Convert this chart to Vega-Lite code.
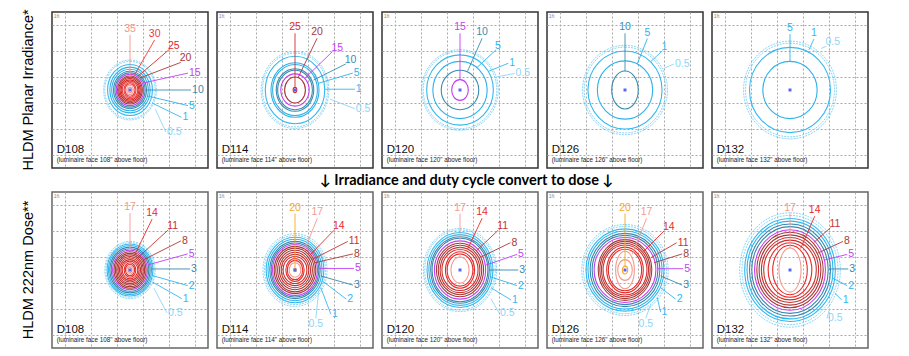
{
"$schema":"https://vega.github.io/schema/vega-lite/v6.json",
"padding":{"left":20,"top":9,"right":0,"bottom":0},
"spacing":1,
"config":{"font":"Liberation Sans","view":{"stroke":"#333"},"axis":{"grid":true,"gridDash":[2,2],"gridColor":"#a8a8a8","gridWidth":1,"labels":false,"ticks":false,"domain":false,"title":null}},
"datasets":{"d":[
{"k":"p","row":"irr","p":"D108","s":"(luminaire face 108\" above floor)"},
{"k":"p","row":"irr","p":"D114","s":"(luminaire face 114\" above floor)"},
{"k":"p","row":"irr","p":"D120","s":"(luminaire face 120\" above floor)"},
{"k":"p","row":"irr","p":"D126","s":"(luminaire face 126\" above floor)"},
{"k":"p","row":"irr","p":"D132","s":"(luminaire face 132\" above floor)"},
{"k":"p","row":"dose","p":"D108","s":"(luminaire face 108\" above floor)"},
{"k":"p","row":"dose","p":"D114","s":"(luminaire face 114\" above floor)"},
{"k":"p","row":"dose","p":"D120","s":"(luminaire face 120\" above floor)"},
{"k":"p","row":"dose","p":"D126","s":"(luminaire face 126\" above floor)"},
{"k":"p","row":"dose","p":"D132","s":"(luminaire face 132\" above floor)"},

{"k":"r","row":"irr","p":"D108","c":"i05","r":1.15,"sh":"n"},
{"k":"r","row":"irr","p":"D108","c":"i05","r":1.1,"sh":"n"},
{"k":"r","row":"irr","p":"D108","c":"i1","r":0.98,"sh":"n"},
{"k":"r","row":"irr","p":"D108","c":"i5","r":0.88,"sh":"n"},
{"k":"r","row":"irr","p":"D108","c":"i5","r":0.8,"sh":"n"},
{"k":"r","row":"irr","p":"D108","c":"i10","r":0.72,"sh":"n"},
{"k":"r","row":"irr","p":"D108","c":"i10","r":0.66,"sh":"n"},
{"k":"r","row":"irr","p":"D108","c":"i15","r":0.6,"sh":"n"},
{"k":"r","row":"irr","p":"D108","c":"i20","r":0.54,"sh":"n"},
{"k":"r","row":"irr","p":"D108","c":"i20","r":0.49,"sh":"n"},
{"k":"r","row":"irr","p":"D108","c":"i25","r":0.44,"sh":"n"},
{"k":"r","row":"irr","p":"D108","c":"i25","r":0.39,"sh":"n"},
{"k":"r","row":"irr","p":"D108","c":"i30","r":0.34,"sh":"n"},
{"k":"r","row":"irr","p":"D108","c":"i30","r":0.29,"sh":"m"},
{"k":"r","row":"irr","p":"D108","c":"i30","r":0.24,"sh":"m"},
{"k":"r","row":"irr","p":"D108","c":"i35","r":0.18,"sh":"t"},
{"k":"r","row":"irr","p":"D108","c":"i35","r":0.11,"sh":"t"},

{"k":"r","row":"irr","p":"D114","c":"i05","r":1.48,"sh":"n"},
{"k":"r","row":"irr","p":"D114","c":"i05","r":1.42,"sh":"n"},
{"k":"r","row":"irr","p":"D114","c":"i1","r":1.3,"sh":"n"},
{"k":"r","row":"irr","p":"D114","c":"i5","r":1.05,"sh":"n"},
{"k":"r","row":"irr","p":"D114","c":"i5","r":0.98,"sh":"n"},
{"k":"r","row":"irr","p":"D114","c":"i10","r":0.82,"sh":"n"},
{"k":"r","row":"irr","p":"D114","c":"i10","r":0.76,"sh":"n"},
{"k":"r","row":"irr","p":"D114","c":"i15","r":0.62,"sh":"n"},
{"k":"r","row":"irr","p":"D114","c":"i20","r":0.5,"sh":"m"},
{"k":"r","row":"irr","p":"D114","c":"i25","r":0.1,"sh":"t"},

{"k":"r","row":"irr","p":"D120","c":"i05","r":1.55,"sh":"c"},
{"k":"r","row":"irr","p":"D120","c":"i05","r":1.49,"sh":"c"},
{"k":"r","row":"irr","p":"D120","c":"i1","r":1.35,"sh":"c"},
{"k":"r","row":"irr","p":"D120","c":"i5","r":1.1,"sh":"c"},
{"k":"r","row":"irr","p":"D120","c":"i10","r":0.76,"sh":"c"},
{"k":"r","row":"irr","p":"D120","c":"i15","r":0.4,"sh":"m"},

{"k":"r","row":"irr","p":"D126","c":"i05","r":1.72,"sh":"c"},
{"k":"r","row":"irr","p":"D126","c":"i05","r":1.65,"sh":"c"},
{"k":"r","row":"irr","p":"D126","c":"i1","r":1.5,"sh":"c"},
{"k":"r","row":"irr","p":"D126","c":"i5","r":1.12,"sh":"c"},
{"k":"r","row":"irr","p":"D126","c":"i10","r":0.73,"sh":"t"},

{"k":"r","row":"irr","p":"D132","c":"i05","r":1.88,"sh":"c"},
{"k":"r","row":"irr","p":"D132","c":"i05","r":1.8,"sh":"c"},
{"k":"r","row":"irr","p":"D132","c":"i1","r":1.64,"sh":"c"},
{"k":"r","row":"irr","p":"D132","c":"i5","r":1.1,"sh":"c"},

{"k":"r","row":"dose","p":"D108","c":"d05","r":1.1,"sh":"n"},
{"k":"r","row":"dose","p":"D108","c":"d05","r":1.05,"sh":"n"},
{"k":"r","row":"dose","p":"D108","c":"d1","r":1.0,"sh":"n"},
{"k":"r","row":"dose","p":"D108","c":"d2","r":0.94,"sh":"n"},
{"k":"r","row":"dose","p":"D108","c":"d3","r":0.88,"sh":"n"},
{"k":"r","row":"dose","p":"D108","c":"d3","r":0.82,"sh":"n"},
{"k":"r","row":"dose","p":"D108","c":"d5","r":0.76,"sh":"n"},
{"k":"r","row":"dose","p":"D108","c":"d8","r":0.7,"sh":"n"},
{"k":"r","row":"dose","p":"D108","c":"d8","r":0.64,"sh":"n"},
{"k":"r","row":"dose","p":"D108","c":"d8","r":0.58,"sh":"n"},
{"k":"r","row":"dose","p":"D108","c":"d11","r":0.52,"sh":"n"},
{"k":"r","row":"dose","p":"D108","c":"d11","r":0.46,"sh":"n"},
{"k":"r","row":"dose","p":"D108","c":"d11","r":0.4,"sh":"n"},
{"k":"r","row":"dose","p":"D108","c":"d14","r":0.34,"sh":"n"},
{"k":"r","row":"dose","p":"D108","c":"d14","r":0.28,"sh":"m"},
{"k":"r","row":"dose","p":"D108","c":"d14","r":0.22,"sh":"m"},
{"k":"r","row":"dose","p":"D108","c":"d17","r":0.16,"sh":"m"},
{"k":"r","row":"dose","p":"D108","c":"d17","r":0.1,"sh":"t"},

{"k":"r","row":"dose","p":"D114","c":"d05","r":1.4,"sh":"n"},
{"k":"r","row":"dose","p":"D114","c":"d05","r":1.33,"sh":"n"},
{"k":"r","row":"dose","p":"D114","c":"d1","r":1.26,"sh":"n"},
{"k":"r","row":"dose","p":"D114","c":"d2","r":1.18,"sh":"n"},
{"k":"r","row":"dose","p":"D114","c":"d3","r":1.1,"sh":"n"},
{"k":"r","row":"dose","p":"D114","c":"d3","r":1.04,"sh":"n"},
{"k":"r","row":"dose","p":"D114","c":"d5","r":0.98,"sh":"n"},
{"k":"r","row":"dose","p":"D114","c":"d8","r":0.91,"sh":"n"},
{"k":"r","row":"dose","p":"D114","c":"d8","r":0.84,"sh":"n"},
{"k":"r","row":"dose","p":"D114","c":"d8","r":0.76,"sh":"n"},
{"k":"r","row":"dose","p":"D114","c":"d11","r":0.68,"sh":"n"},
{"k":"r","row":"dose","p":"D114","c":"d11","r":0.6,"sh":"n"},
{"k":"r","row":"dose","p":"D114","c":"d11","r":0.52,"sh":"n"},
{"k":"r","row":"dose","p":"D114","c":"d14","r":0.44,"sh":"m"},
{"k":"r","row":"dose","p":"D114","c":"d14","r":0.37,"sh":"m"},
{"k":"r","row":"dose","p":"D114","c":"d17","r":0.28,"sh":"m"},
{"k":"r","row":"dose","p":"D114","c":"d20","r":0.07,"sh":"t"},

{"k":"r","row":"dose","p":"D120","c":"d05","r":1.6,"sh":"n"},
{"k":"r","row":"dose","p":"D120","c":"d05","r":1.54,"sh":"n"},
{"k":"r","row":"dose","p":"D120","c":"d1","r":1.44,"sh":"n"},
{"k":"r","row":"dose","p":"D120","c":"d2","r":1.36,"sh":"n"},
{"k":"r","row":"dose","p":"D120","c":"d3","r":1.28,"sh":"n"},
{"k":"r","row":"dose","p":"D120","c":"d3","r":1.22,"sh":"n"},
{"k":"r","row":"dose","p":"D120","c":"d5","r":1.12,"sh":"n"},
{"k":"r","row":"dose","p":"D120","c":"d8","r":1.03,"sh":"n"},
{"k":"r","row":"dose","p":"D120","c":"d8","r":0.95,"sh":"n"},
{"k":"r","row":"dose","p":"D120","c":"d11","r":0.87,"sh":"n"},
{"k":"r","row":"dose","p":"D120","c":"d11","r":0.79,"sh":"n"},
{"k":"r","row":"dose","p":"D120","c":"d14","r":0.7,"sh":"m"},
{"k":"r","row":"dose","p":"D120","c":"d14","r":0.62,"sh":"m"},
{"k":"r","row":"dose","p":"D120","c":"d17","r":0.5,"sh":"t"},

{"k":"r","row":"dose","p":"D126","c":"d05","r":1.75,"sh":"c"},
{"k":"r","row":"dose","p":"D126","c":"d05","r":1.68,"sh":"c"},
{"k":"r","row":"dose","p":"D126","c":"d1","r":1.58,"sh":"c"},
{"k":"r","row":"dose","p":"D126","c":"d2","r":1.5,"sh":"c"},
{"k":"r","row":"dose","p":"D126","c":"d3","r":1.41,"sh":"c"},
{"k":"r","row":"dose","p":"D126","c":"d3","r":1.33,"sh":"c"},
{"k":"r","row":"dose","p":"D126","c":"d5","r":1.25,"sh":"c"},
{"k":"r","row":"dose","p":"D126","c":"d8","r":1.17,"sh":"n"},
{"k":"r","row":"dose","p":"D126","c":"d8","r":1.1,"sh":"n"},
{"k":"r","row":"dose","p":"D126","c":"d11","r":1.03,"sh":"n"},
{"k":"r","row":"dose","p":"D126","c":"d11","r":0.96,"sh":"n"},
{"k":"r","row":"dose","p":"D126","c":"d14","r":0.88,"sh":"m"},
{"k":"r","row":"dose","p":"D126","c":"d14","r":0.8,"sh":"m"},
{"k":"r","row":"dose","p":"D126","c":"d17","r":0.72,"sh":"tt"},
{"k":"r","row":"dose","p":"D126","c":"d17","r":0.4,"sh":"t"},
{"k":"r","row":"dose","p":"D126","c":"d20","r":0.15,"sh":"t"},

{"k":"r","row":"dose","p":"D132","c":"d05","r":2.2,"sh":"n"},
{"k":"r","row":"dose","p":"D132","c":"d05","r":2.1,"sh":"n"},
{"k":"r","row":"dose","p":"D132","c":"d1","r":1.98,"sh":"n"},
{"k":"r","row":"dose","p":"D132","c":"d2","r":1.88,"sh":"n"},
{"k":"r","row":"dose","p":"D132","c":"d3","r":1.77,"sh":"n"},
{"k":"r","row":"dose","p":"D132","c":"d3","r":1.67,"sh":"n"},
{"k":"r","row":"dose","p":"D132","c":"d5","r":1.55,"sh":"n"},
{"k":"r","row":"dose","p":"D132","c":"d8","r":1.45,"sh":"n"},
{"k":"r","row":"dose","p":"D132","c":"d8","r":1.35,"sh":"n"},
{"k":"r","row":"dose","p":"D132","c":"d11","r":1.25,"sh":"n"},
{"k":"r","row":"dose","p":"D132","c":"d11","r":1.15,"sh":"n"},
{"k":"r","row":"dose","p":"D132","c":"d14","r":1.05,"sh":"m"},
{"k":"r","row":"dose","p":"D132","c":"d14","r":0.95,"sh":"t"},
{"k":"r","row":"dose","p":"D132","c":"d17","r":0.85,"sh":"tt"},

{"k":"l","row":"irr","p":"D108","t":"35","c":"i35","s":"t","lx":0,"ly":2.12,"ax":0,"ay":0.5},
{"k":"l","row":"irr","p":"D108","t":"30","c":"i30","s":"t","lx":0.95,"ly":1.93,"ax":0.18,"ay":0.59},
{"k":"l","row":"irr","p":"D108","t":"25","c":"i25","s":"tr","lx":1.5,"ly":1.55,"ax":0.31,"ay":0.53},
{"k":"l","row":"irr","p":"D108","t":"20","c":"i20","s":"tr","lx":1.95,"ly":1.06,"ax":0.38,"ay":0.46},
{"k":"l","row":"irr","p":"D108","t":"15","c":"i15","s":"r","lx":2.23,"ly":0.65,"ax":0.51,"ay":0.27},
{"k":"l","row":"irr","p":"D108","t":"10","c":"i10","s":"r","lx":2.35,"ly":0,"ax":0.6,"ay":0},
{"k":"l","row":"irr","p":"D108","t":"5","c":"i5","s":"r","lx":2.23,"ly":-0.6,"ax":0.67,"ay":-0.23},
{"k":"l","row":"irr","p":"D108","t":"1","c":"i1","s":"r","lx":1.98,"ly":-1.05,"ax":0.85,"ay":-0.5},
{"k":"l","row":"irr","p":"D108","t":"0.5","c":"i05","s":"r","lx":1.38,"ly":-1.62,"ax":0.98,"ay":-0.75},

{"k":"l","row":"irr","p":"D114","t":"25","c":"i25","s":"t","lx":0,"ly":2.18,"ax":0,"ay":0.12},
{"k":"l","row":"irr","p":"D114","t":"20","c":"i20","s":"t","lx":0.85,"ly":1.99,"ax":0.13,"ay":0.5},
{"k":"l","row":"irr","p":"D114","t":"15","c":"i15","s":"tr","lx":1.44,"ly":1.48,"ax":0.38,"ay":0.45},
{"k":"l","row":"irr","p":"D114","t":"10","c":"i10","s":"tr","lx":1.95,"ly":1.0,"ax":0.71,"ay":0.38},
{"k":"l","row":"irr","p":"D114","t":"5","c":"i5","s":"r","lx":2.22,"ly":0.65,"ax":0.9,"ay":0.26},
{"k":"l","row":"irr","p":"D114","t":"1","c":"i1","s":"r","lx":2.3,"ly":0.03,"ax":1.15,"ay":0.03},
{"k":"l","row":"irr","p":"D114","t":"0.5","c":"i05","s":"r","lx":2.3,"ly":-0.72,"ax":1.35,"ay":-0.35},

{"k":"l","row":"irr","p":"D120","t":"15","c":"i15","s":"t","lx":0,"ly":2.18,"ax":0,"ay":0.4},
{"k":"l","row":"irr","p":"D120","t":"10","c":"i10","s":"t","lx":0.85,"ly":1.99,"ax":0.29,"ay":0.72},
{"k":"l","row":"irr","p":"D120","t":"5","c":"i5","s":"tr","lx":1.38,"ly":1.54,"ax":0.65,"ay":0.86},
{"k":"l","row":"irr","p":"D120","t":"1","c":"i1","s":"r","lx":1.86,"ly":1.03,"ax":1.1,"ay":0.72},
{"k":"l","row":"irr","p":"D120","t":"0.5","c":"i05","s":"r","lx":2.1,"ly":0.64,"ax":1.4,"ay":0.5},

{"k":"l","row":"irr","p":"D126","t":"10","c":"i10","s":"t","lx":0,"ly":2.18,"ax":0,"ay":0.73},
{"k":"l","row":"irr","p":"D126","t":"5","c":"i5","s":"t","lx":0.86,"ly":1.98,"ax":0.47,"ay":1.0},
{"k":"l","row":"irr","p":"D126","t":"1","c":"i1","s":"tr","lx":1.44,"ly":1.51,"ax":1.0,"ay":1.1},
{"k":"l","row":"irr","p":"D126","t":"0.5","c":"i05","s":"r","lx":1.88,"ly":1.0,"ax":1.48,"ay":0.82},

{"k":"l","row":"irr","p":"D132","t":"5","c":"i5","s":"t","lx":0,"ly":2.15,"ax":0,"ay":1.1},
{"k":"l","row":"irr","p":"D132","t":"1","c":"i1","s":"t","lx":0.92,"ly":1.96,"ax":0.73,"ay":1.55},
{"k":"l","row":"irr","p":"D132","t":"0.5","c":"i05","s":"tr","lx":1.4,"ly":1.68,"ax":1.2,"ay":1.6},

{"k":"l","row":"dose","p":"D108","t":"17","c":"d17","s":"t","lx":0,"ly":2.18,"ax":0,"ay":0.8},
{"k":"l","row":"dose","p":"D108","t":"14","c":"d14","s":"t","lx":0.85,"ly":1.96,"ax":0.19,"ay":0.6},
{"k":"l","row":"dose","p":"D108","t":"11","c":"d11","s":"tr","lx":1.47,"ly":1.54,"ax":0.32,"ay":0.49},
{"k":"l","row":"dose","p":"D108","t":"8","c":"d8","s":"r","lx":1.96,"ly":1.12,"ax":0.5,"ay":0.38},
{"k":"l","row":"dose","p":"D108","t":"5","c":"d5","s":"r","lx":2.22,"ly":0.62,"ax":0.7,"ay":0.2},
{"k":"l","row":"dose","p":"D108","t":"3","c":"d3","s":"r","lx":2.31,"ly":0.04,"ax":0.83,"ay":0.04},
{"k":"l","row":"dose","p":"D108","t":"2","c":"d2","s":"r","lx":2.22,"ly":-0.6,"ax":0.88,"ay":-0.22},
{"k":"l","row":"dose","p":"D108","t":"1","c":"d1","s":"r","lx":1.99,"ly":-1.1,"ax":0.88,"ay":-0.47},
{"k":"l","row":"dose","p":"D108","t":"0.5","c":"d05","s":"r","lx":1.42,"ly":-1.65,"ax":0.92,"ay":-0.7},

{"k":"l","row":"dose","p":"D114","t":"20","c":"d20","s":"t","lx":0,"ly":2.17,"ax":0,"ay":0.07},
{"k":"l","row":"dose","p":"D114","t":"17","c":"d17","s":"t","lx":0.86,"ly":1.99,"ax":0.35,"ay":0.73},
{"k":"l","row":"dose","p":"D114","t":"14","c":"d14","s":"tr","lx":1.5,"ly":1.53,"ax":0.54,"ay":0.54},
{"k":"l","row":"dose","p":"D114","t":"11","c":"d11","s":"r","lx":2.03,"ly":1.1,"ax":0.67,"ay":0.41},
{"k":"l","row":"dose","p":"D114","t":"8","c":"d8","s":"r","lx":2.23,"ly":0.62,"ax":0.77,"ay":0.28},
{"k":"l","row":"dose","p":"D114","t":"5","c":"d5","s":"r","lx":2.27,"ly":0.06,"ax":0.92,"ay":0.06},
{"k":"l","row":"dose","p":"D114","t":"3","c":"d3","s":"r","lx":2.23,"ly":-0.58,"ax":0.99,"ay":-0.23},
{"k":"l","row":"dose","p":"D114","t":"2","c":"d2","s":"r","lx":1.97,"ly":-1.12,"ax":1.05,"ay":-0.42},
{"k":"l","row":"dose","p":"D114","t":"1","c":"d1","s":"r","lx":1.38,"ly":-1.7,"ax":0.99,"ay":-0.68},
{"k":"l","row":"dose","p":"D114","t":"0.5","c":"d05","s":"b","lx":0.8,"ly":-1.85,"ax":0.92,"ay":-0.75},

{"k":"l","row":"dose","p":"D120","t":"17","c":"d17","s":"t","lx":0,"ly":2.17,"ax":0,"ay":0.5},
{"k":"l","row":"dose","p":"D120","t":"14","c":"d14","s":"t","lx":0.85,"ly":1.99,"ax":0.29,"ay":0.8},
{"k":"l","row":"dose","p":"D120","t":"11","c":"d11","s":"tr","lx":1.47,"ly":1.53,"ax":0.62,"ay":0.73},
{"k":"l","row":"dose","p":"D120","t":"8","c":"d8","s":"r","lx":1.94,"ly":1.05,"ax":0.81,"ay":0.5},
{"k":"l","row":"dose","p":"D120","t":"5","c":"d5","s":"r","lx":2.19,"ly":0.6,"ax":1.0,"ay":0.19},
{"k":"l","row":"dose","p":"D120","t":"3","c":"d3","s":"r","lx":2.24,"ly":0,"ax":1.13,"ay":0},
{"k":"l","row":"dose","p":"D120","t":"2","c":"d2","s":"r","lx":2.19,"ly":-0.6,"ax":1.19,"ay":-0.27},
{"k":"l","row":"dose","p":"D120","t":"1","c":"d1","s":"r","lx":1.96,"ly":-1.15,"ax":1.19,"ay":-0.68},
{"k":"l","row":"dose","p":"D120","t":"0.5","c":"d05","s":"r","lx":1.5,"ly":-1.65,"ax":1.19,"ay":-1.1},

{"k":"l","row":"dose","p":"D126","t":"20","c":"d20","s":"t","lx":0,"ly":2.17,"ax":0,"ay":0.15},
{"k":"l","row":"dose","p":"D126","t":"17","c":"d17","s":"t","lx":0.83,"ly":1.99,"ax":0.28,"ay":0.6},
{"k":"l","row":"dose","p":"D126","t":"14","c":"d14","s":"tr","lx":1.5,"ly":1.5,"ax":0.73,"ay":0.73},
{"k":"l","row":"dose","p":"D126","t":"11","c":"d11","s":"r","lx":1.99,"ly":1.05,"ax":0.99,"ay":0.47},
{"k":"l","row":"dose","p":"D126","t":"8","c":"d8","s":"r","lx":2.2,"ly":0.62,"ax":1.12,"ay":0.28},
{"k":"l","row":"dose","p":"D126","t":"5","c":"d5","s":"r","lx":2.24,"ly":0.05,"ax":1.24,"ay":0.05},
{"k":"l","row":"dose","p":"D126","t":"3","c":"d3","s":"r","lx":2.2,"ly":-0.58,"ax":1.37,"ay":-0.23},
{"k":"l","row":"dose","p":"D126","t":"2","c":"d2","s":"r","lx":1.95,"ly":-1.12,"ax":1.37,"ay":-0.68},
{"k":"l","row":"dose","p":"D126","t":"1","c":"d1","s":"r","lx":1.37,"ly":-1.62,"ax":1.24,"ay":-1.06},
{"k":"l","row":"dose","p":"D126","t":"0.5","c":"d05","s":"b","lx":0.8,"ly":-1.85,"ax":1.0,"ay":-1.3},

{"k":"l","row":"dose","p":"D132","t":"17","c":"d17","s":"t","lx":0,"ly":2.17,"ax":0,"ay":0.85},
{"k":"l","row":"dose","p":"D132","t":"14","c":"d14","s":"t","lx":0.95,"ly":2.07,"ax":0.41,"ay":0.83},
{"k":"l","row":"dose","p":"D132","t":"11","c":"d11","s":"tr","lx":1.56,"ly":1.63,"ax":0.92,"ay":1.06},
{"k":"l","row":"dose","p":"D132","t":"8","c":"d8","s":"r","lx":2.04,"ly":1.1,"ax":1.05,"ay":0.64},
{"k":"l","row":"dose","p":"D132","t":"5","c":"d5","s":"r","lx":2.2,"ly":0.6,"ax":1.31,"ay":0.38},
{"k":"l","row":"dose","p":"D132","t":"3","c":"d3","s":"r","lx":2.24,"ly":0.04,"ax":1.5,"ay":0.04},
{"k":"l","row":"dose","p":"D132","t":"2","c":"d2","s":"r","lx":2.2,"ly":-0.6,"ax":1.65,"ay":-0.32},
{"k":"l","row":"dose","p":"D132","t":"1","c":"d1","s":"r","lx":1.99,"ly":-1.15,"ax":1.73,"ay":-0.9},
{"k":"l","row":"dose","p":"D132","t":"0.5","c":"d05","s":"r","lx":1.42,"ly":-1.86,"ax":1.52,"ay":-1.5}
]},
"vconcat":[
{
"data":{"name":"d"},
"transform":[{"filter":"datum.row=='irr'"}],
"facet":{
 "row":{"field":"row","type":"nominal","title":null,"header":{"title":null,"labelExpr":"datum.value=='irr' ? 'HLDM Planar Irradiance*' : 'HLDM 222nm Dose**'","labelAngle":-90,"labelOrient":"left","labelFontSize":14.5,"labelFont":"Liberation Sans","labelColor":"#000","labelPadding":8}},
 "column":{"field":"p","type":"nominal","title":null,"header":null}
},
"spacing":{"row":0,"column":7},
"spec":{
 "width":156,"height":156,
 "view":{"stroke":"#333","strokeWidth":1.5},
 "layer":[
  {"transform":[{"filter":"datum.k=='r' && datum.c!='i05' && datum.c!='d05'"}],
   "mark":{"type":"point","filled":false,"strokeWidth":1.1,"opacity":1},
   "encoding":{
    "x":{"datum":0,"type":"quantitative","title":null,"scale":{"domain":[-3,3],"nice":false,"zero":false},"axis":{"values":[-2.5,-1.5,-0.5,0.5,1.5,2.5],"grid":true,"labels":false,"ticks":false,"domain":false,"title":null}},
    "y":{"datum":0,"type":"quantitative","title":null,"scale":{"domain":[-3,3],"nice":false,"zero":false},"axis":{"values":[-2.5,-1.5,-0.5,0.5,1.5,2.5],"grid":true,"labels":false,"ticks":false,"domain":false,"title":null}},
    "size":{"field":"r","type":"quantitative","scale":{"type":"pow","exponent":2,"domain":[0,3],"range":[0,24336]},"legend":null},
    "shape":{"field":"sh","type":"nominal","scale":{"domain":["c","n","m","t","tt"],"range":[
      "M0,-1C0.525,-1,0.95,-0.552,0.95,0C0.95,0.552,0.525,1,0,1C-0.525,1,-0.95,0.552,-0.95,0C-0.95,-0.552,-0.525,-1,0,-1Z",
      "M0,-1C0.486,-1,0.88,-0.552,0.88,0C0.88,0.552,0.486,1,0,1C-0.486,1,-0.88,0.552,-0.88,0C-0.88,-0.552,-0.486,-1,0,-1Z",
      "M0,-1C0.442,-1,0.8,-0.552,0.8,0C0.8,0.552,0.442,1,0,1C-0.442,1,-0.8,0.552,-0.8,0C-0.8,-0.552,-0.442,-1,0,-1Z",
      "M0,-1C0.387,-1,0.7,-0.552,0.7,0C0.7,0.552,0.387,1,0,1C-0.387,1,-0.7,0.552,-0.7,0C-0.7,-0.552,-0.387,-1,0,-1Z",
      "M0,-1C0.276,-1,0.5,-0.552,0.5,0C0.5,0.552,0.276,1,0,1C-0.276,1,-0.5,0.552,-0.5,0C-0.5,-0.552,-0.276,-1,0,-1Z"]},"legend":null},
    "color":{"field":"c","type":"nominal","scale":{"domain":["i35","i30","i25","i20","i15","i10","i5","i1","i05","d20","d17","d14","d11","d8","d5","d3","d2","d1","d05"],"range":["#f4958a","#ec3a3a","#d62a2a","#a83838","#c13ff2","#3a8cb0","#2fb1ea","#36b8ef","#8fd6f6","#f6aa22","#f49a90","#e62b2b","#c83232","#a63a3a","#c13ff2","#3a86ad","#2eb6ef","#36b8ef","#8fd6f6"]},"legend":null}
   }},
  {"transform":[{"filter":"datum.k=='r' && (datum.c=='i05' || datum.c=='d05')"}],
   "mark":{"type":"point","filled":false,"strokeWidth":1,"opacity":1,"strokeDash":[2,1]},
   "encoding":{
    "x":{"datum":0,"type":"quantitative","title":null,"axis":{"values":[-2.5,-1.5,-0.5,0.5,1.5,2.5],"grid":true,"labels":false,"ticks":false,"domain":false,"title":null}},
    "y":{"datum":0,"type":"quantitative","title":null,"axis":{"values":[-2.5,-1.5,-0.5,0.5,1.5,2.5],"grid":true,"labels":false,"ticks":false,"domain":false,"title":null}},
    "size":{"field":"r","type":"quantitative","legend":null},
    "shape":{"field":"sh","type":"nominal","legend":null},
    "color":{"field":"c","type":"nominal","legend":null}
   }},
  {"transform":[{"filter":"datum.k=='l'"}],
   "mark":{"type":"rule","strokeWidth":0.9},
   "encoding":{
    "x":{"field":"ax","type":"quantitative","title":null,"axis":{"values":[-2.5,-1.5,-0.5,0.5,1.5,2.5],"grid":true,"labels":false,"ticks":false,"domain":false,"title":null}},
    "y":{"field":"ay","type":"quantitative","title":null,"axis":{"values":[-2.5,-1.5,-0.5,0.5,1.5,2.5],"grid":true,"labels":false,"ticks":false,"domain":false,"title":null}},
    "x2":{"field":"lx"},
    "y2":{"field":"ly"},
    "color":{"field":"c","type":"nominal","legend":null}
   }},
  {"transform":[{"filter":"datum.k=='l' && datum.s=='t'"}],
   "mark":{"type":"text","align":"center","baseline":"bottom","fontSize":10.5,"dy":-1},
   "encoding":{"x":{"field":"lx","type":"quantitative","title":null,"axis":{"values":[-2.5,-1.5,-0.5,0.5,1.5,2.5],"grid":true,"labels":false,"ticks":false,"domain":false,"title":null}},"y":{"field":"ly","type":"quantitative","title":null,"axis":{"values":[-2.5,-1.5,-0.5,0.5,1.5,2.5],"grid":true,"labels":false,"ticks":false,"domain":false,"title":null}},"text":{"field":"t"},"color":{"field":"c","type":"nominal","legend":null}}},
  {"transform":[{"filter":"datum.k=='l' && datum.s=='tr'"}],
   "mark":{"type":"text","align":"left","baseline":"bottom","fontSize":10.5,"dx":-1,"dy":1},
   "encoding":{"x":{"field":"lx","type":"quantitative","title":null,"axis":{"values":[-2.5,-1.5,-0.5,0.5,1.5,2.5],"grid":true,"labels":false,"ticks":false,"domain":false,"title":null}},"y":{"field":"ly","type":"quantitative","title":null,"axis":{"values":[-2.5,-1.5,-0.5,0.5,1.5,2.5],"grid":true,"labels":false,"ticks":false,"domain":false,"title":null}},"text":{"field":"t"},"color":{"field":"c","type":"nominal","legend":null}}},
  {"transform":[{"filter":"datum.k=='l' && datum.s=='r'"}],
   "mark":{"type":"text","align":"left","baseline":"middle","fontSize":10.5,"dx":1},
   "encoding":{"x":{"field":"lx","type":"quantitative","title":null,"axis":{"values":[-2.5,-1.5,-0.5,0.5,1.5,2.5],"grid":true,"labels":false,"ticks":false,"domain":false,"title":null}},"y":{"field":"ly","type":"quantitative","title":null,"axis":{"values":[-2.5,-1.5,-0.5,0.5,1.5,2.5],"grid":true,"labels":false,"ticks":false,"domain":false,"title":null}},"text":{"field":"t"},"color":{"field":"c","type":"nominal","legend":null}}},
  {"transform":[{"filter":"datum.k=='l' && datum.s=='b'"}],
   "mark":{"type":"text","align":"center","baseline":"top","fontSize":10.5,"dy":1},
   "encoding":{"x":{"field":"lx","type":"quantitative","title":null,"axis":{"values":[-2.5,-1.5,-0.5,0.5,1.5,2.5],"grid":true,"labels":false,"ticks":false,"domain":false,"title":null}},"y":{"field":"ly","type":"quantitative","title":null,"axis":{"values":[-2.5,-1.5,-0.5,0.5,1.5,2.5],"grid":true,"labels":false,"ticks":false,"domain":false,"title":null}},"text":{"field":"t"},"color":{"field":"c","type":"nominal","legend":null}}},
  {"transform":[{"filter":"datum.k=='p'"}],
   "mark":{"type":"point","shape":"square","filled":true,"size":9,"color":"#5a66f0","opacity":1},
   "encoding":{"x":{"datum":0,"type":"quantitative","title":null,"axis":{"values":[-2.5,-1.5,-0.5,0.5,1.5,2.5],"grid":true,"labels":false,"ticks":false,"domain":false,"title":null}},"y":{"datum":0,"type":"quantitative","title":null,"axis":{"values":[-2.5,-1.5,-0.5,0.5,1.5,2.5],"grid":true,"labels":false,"ticks":false,"domain":false,"title":null}}}},
  {"transform":[{"filter":"datum.k=='p'"}],
   "mark":{"type":"text","align":"left","baseline":"alphabetic","fontSize":11.5,"color":"#111"},
   "encoding":{"x":{"datum":-2.82,"type":"quantitative","title":null,"axis":{"values":[-2.5,-1.5,-0.5,0.5,1.5,2.5],"grid":true,"labels":false,"ticks":false,"domain":false,"title":null}},"y":{"datum":-2.42,"type":"quantitative","title":null,"axis":{"values":[-2.5,-1.5,-0.5,0.5,1.5,2.5],"grid":true,"labels":false,"ticks":false,"domain":false,"title":null}},"text":{"field":"p"}}},
  {"transform":[{"filter":"datum.k=='p'"}],
   "mark":{"type":"text","align":"left","baseline":"alphabetic","fontSize":6.3,"color":"#222"},
   "encoding":{"x":{"datum":-2.82,"type":"quantitative","title":null,"axis":{"values":[-2.5,-1.5,-0.5,0.5,1.5,2.5],"grid":true,"labels":false,"ticks":false,"domain":false,"title":null}},"y":{"datum":-2.76,"type":"quantitative","title":null,"axis":{"values":[-2.5,-1.5,-0.5,0.5,1.5,2.5],"grid":true,"labels":false,"ticks":false,"domain":false,"title":null}},"text":{"field":"s"}}},
  {"transform":[{"filter":"datum.k=='p'"}],
   "mark":{"type":"text","align":"left","baseline":"top","fontSize":5,"color":"#888","text":"1ft"},
   "encoding":{"x":{"datum":-2.93,"type":"quantitative","title":null,"axis":{"values":[-2.5,-1.5,-0.5,0.5,1.5,2.5],"grid":true,"labels":false,"ticks":false,"domain":false,"title":null}},"y":{"datum":2.92,"type":"quantitative","title":null,"axis":{"values":[-2.5,-1.5,-0.5,0.5,1.5,2.5],"grid":true,"labels":false,"ticks":false,"domain":false,"title":null}}}}
 ]
}
},
{
"data":{"name":"d"},
"transform":[{"filter":"datum.row=='dose'"}],
"title":{"text":"↓ Irradiance and duty cycle convert to dose ↓","anchor":"middle","fontSize":14.5,"font":"Lato","fontWeight":"bold","color":"#000","offset":3,"dx":22},
"facet":{
 "row":{"field":"row","type":"nominal","title":null,"header":{"title":null,"labelExpr":"datum.value=='irr' ? 'HLDM Planar Irradiance*' : 'HLDM 222nm Dose**'","labelAngle":-90,"labelOrient":"left","labelFontSize":14.5,"labelFont":"Liberation Sans","labelColor":"#000","labelPadding":8}},
 "column":{"field":"p","type":"nominal","title":null,"header":null}
},
"spacing":{"row":0,"column":7},
"spec":{
 "width":156,"height":156,
 "view":{"stroke":"#666","strokeWidth":1.5},
 "layer":[
  {"transform":[{"filter":"datum.k=='r' && datum.c!='i05' && datum.c!='d05'"}],
   "mark":{"type":"point","filled":false,"strokeWidth":1.1,"opacity":1},
   "encoding":{
    "x":{"datum":0,"type":"quantitative","title":null,"scale":{"domain":[-3,3],"nice":false,"zero":false},"axis":{"values":[-2.5,-1.5,-0.5,0.5,1.5,2.5],"grid":true,"labels":false,"ticks":false,"domain":false,"title":null}},
    "y":{"datum":0,"type":"quantitative","title":null,"scale":{"domain":[-3,3],"nice":false,"zero":false},"axis":{"values":[-2.5,-1.5,-0.5,0.5,1.5,2.5],"grid":true,"labels":false,"ticks":false,"domain":false,"title":null}},
    "size":{"field":"r","type":"quantitative","scale":{"type":"pow","exponent":2,"domain":[0,3],"range":[0,24336]},"legend":null},
    "shape":{"field":"sh","type":"nominal","scale":{"domain":["c","n","m","t","tt"],"range":[
      "M0,-1C0.525,-1,0.95,-0.552,0.95,0C0.95,0.552,0.525,1,0,1C-0.525,1,-0.95,0.552,-0.95,0C-0.95,-0.552,-0.525,-1,0,-1Z",
      "M0,-1C0.486,-1,0.88,-0.552,0.88,0C0.88,0.552,0.486,1,0,1C-0.486,1,-0.88,0.552,-0.88,0C-0.88,-0.552,-0.486,-1,0,-1Z",
      "M0,-1C0.442,-1,0.8,-0.552,0.8,0C0.8,0.552,0.442,1,0,1C-0.442,1,-0.8,0.552,-0.8,0C-0.8,-0.552,-0.442,-1,0,-1Z",
      "M0,-1C0.387,-1,0.7,-0.552,0.7,0C0.7,0.552,0.387,1,0,1C-0.387,1,-0.7,0.552,-0.7,0C-0.7,-0.552,-0.387,-1,0,-1Z",
      "M0,-1C0.276,-1,0.5,-0.552,0.5,0C0.5,0.552,0.276,1,0,1C-0.276,1,-0.5,0.552,-0.5,0C-0.5,-0.552,-0.276,-1,0,-1Z"]},"legend":null},
    "color":{"field":"c","type":"nominal","scale":{"domain":["i35","i30","i25","i20","i15","i10","i5","i1","i05","d20","d17","d14","d11","d8","d5","d3","d2","d1","d05"],"range":["#f4958a","#ec3a3a","#d62a2a","#a83838","#c13ff2","#3a8cb0","#2fb1ea","#36b8ef","#8fd6f6","#f6aa22","#f49a90","#e62b2b","#c83232","#a63a3a","#c13ff2","#3a86ad","#2eb6ef","#36b8ef","#8fd6f6"]},"legend":null}
   }},
  {"transform":[{"filter":"datum.k=='r' && (datum.c=='i05' || datum.c=='d05')"}],
   "mark":{"type":"point","filled":false,"strokeWidth":1,"opacity":1,"strokeDash":[2,1]},
   "encoding":{
    "x":{"datum":0,"type":"quantitative","title":null,"axis":{"values":[-2.5,-1.5,-0.5,0.5,1.5,2.5],"grid":true,"labels":false,"ticks":false,"domain":false,"title":null}},
    "y":{"datum":0,"type":"quantitative","title":null,"axis":{"values":[-2.5,-1.5,-0.5,0.5,1.5,2.5],"grid":true,"labels":false,"ticks":false,"domain":false,"title":null}},
    "size":{"field":"r","type":"quantitative","legend":null},
    "shape":{"field":"sh","type":"nominal","legend":null},
    "color":{"field":"c","type":"nominal","legend":null}
   }},
  {"transform":[{"filter":"datum.k=='l'"}],
   "mark":{"type":"rule","strokeWidth":0.9},
   "encoding":{
    "x":{"field":"ax","type":"quantitative","title":null,"axis":{"values":[-2.5,-1.5,-0.5,0.5,1.5,2.5],"grid":true,"labels":false,"ticks":false,"domain":false,"title":null}},
    "y":{"field":"ay","type":"quantitative","title":null,"axis":{"values":[-2.5,-1.5,-0.5,0.5,1.5,2.5],"grid":true,"labels":false,"ticks":false,"domain":false,"title":null}},
    "x2":{"field":"lx"},
    "y2":{"field":"ly"},
    "color":{"field":"c","type":"nominal","legend":null}
   }},
  {"transform":[{"filter":"datum.k=='l' && datum.s=='t'"}],
   "mark":{"type":"text","align":"center","baseline":"bottom","fontSize":10.5,"dy":-1},
   "encoding":{"x":{"field":"lx","type":"quantitative","title":null,"axis":{"values":[-2.5,-1.5,-0.5,0.5,1.5,2.5],"grid":true,"labels":false,"ticks":false,"domain":false,"title":null}},"y":{"field":"ly","type":"quantitative","title":null,"axis":{"values":[-2.5,-1.5,-0.5,0.5,1.5,2.5],"grid":true,"labels":false,"ticks":false,"domain":false,"title":null}},"text":{"field":"t"},"color":{"field":"c","type":"nominal","legend":null}}},
  {"transform":[{"filter":"datum.k=='l' && datum.s=='tr'"}],
   "mark":{"type":"text","align":"left","baseline":"bottom","fontSize":10.5,"dx":-1,"dy":1},
   "encoding":{"x":{"field":"lx","type":"quantitative","title":null,"axis":{"values":[-2.5,-1.5,-0.5,0.5,1.5,2.5],"grid":true,"labels":false,"ticks":false,"domain":false,"title":null}},"y":{"field":"ly","type":"quantitative","title":null,"axis":{"values":[-2.5,-1.5,-0.5,0.5,1.5,2.5],"grid":true,"labels":false,"ticks":false,"domain":false,"title":null}},"text":{"field":"t"},"color":{"field":"c","type":"nominal","legend":null}}},
  {"transform":[{"filter":"datum.k=='l' && datum.s=='r'"}],
   "mark":{"type":"text","align":"left","baseline":"middle","fontSize":10.5,"dx":1},
   "encoding":{"x":{"field":"lx","type":"quantitative","title":null,"axis":{"values":[-2.5,-1.5,-0.5,0.5,1.5,2.5],"grid":true,"labels":false,"ticks":false,"domain":false,"title":null}},"y":{"field":"ly","type":"quantitative","title":null,"axis":{"values":[-2.5,-1.5,-0.5,0.5,1.5,2.5],"grid":true,"labels":false,"ticks":false,"domain":false,"title":null}},"text":{"field":"t"},"color":{"field":"c","type":"nominal","legend":null}}},
  {"transform":[{"filter":"datum.k=='l' && datum.s=='b'"}],
   "mark":{"type":"text","align":"center","baseline":"top","fontSize":10.5,"dy":1},
   "encoding":{"x":{"field":"lx","type":"quantitative","title":null,"axis":{"values":[-2.5,-1.5,-0.5,0.5,1.5,2.5],"grid":true,"labels":false,"ticks":false,"domain":false,"title":null}},"y":{"field":"ly","type":"quantitative","title":null,"axis":{"values":[-2.5,-1.5,-0.5,0.5,1.5,2.5],"grid":true,"labels":false,"ticks":false,"domain":false,"title":null}},"text":{"field":"t"},"color":{"field":"c","type":"nominal","legend":null}}},
  {"transform":[{"filter":"datum.k=='p'"}],
   "mark":{"type":"point","shape":"square","filled":true,"size":9,"color":"#5a66f0","opacity":1},
   "encoding":{"x":{"datum":0,"type":"quantitative","title":null,"axis":{"values":[-2.5,-1.5,-0.5,0.5,1.5,2.5],"grid":true,"labels":false,"ticks":false,"domain":false,"title":null}},"y":{"datum":0,"type":"quantitative","title":null,"axis":{"values":[-2.5,-1.5,-0.5,0.5,1.5,2.5],"grid":true,"labels":false,"ticks":false,"domain":false,"title":null}}}},
  {"transform":[{"filter":"datum.k=='p'"}],
   "mark":{"type":"text","align":"left","baseline":"alphabetic","fontSize":11.5,"color":"#111"},
   "encoding":{"x":{"datum":-2.82,"type":"quantitative","title":null,"axis":{"values":[-2.5,-1.5,-0.5,0.5,1.5,2.5],"grid":true,"labels":false,"ticks":false,"domain":false,"title":null}},"y":{"datum":-2.42,"type":"quantitative","title":null,"axis":{"values":[-2.5,-1.5,-0.5,0.5,1.5,2.5],"grid":true,"labels":false,"ticks":false,"domain":false,"title":null}},"text":{"field":"p"}}},
  {"transform":[{"filter":"datum.k=='p'"}],
   "mark":{"type":"text","align":"left","baseline":"alphabetic","fontSize":6.3,"color":"#222"},
   "encoding":{"x":{"datum":-2.82,"type":"quantitative","title":null,"axis":{"values":[-2.5,-1.5,-0.5,0.5,1.5,2.5],"grid":true,"labels":false,"ticks":false,"domain":false,"title":null}},"y":{"datum":-2.76,"type":"quantitative","title":null,"axis":{"values":[-2.5,-1.5,-0.5,0.5,1.5,2.5],"grid":true,"labels":false,"ticks":false,"domain":false,"title":null}},"text":{"field":"s"}}},
  {"transform":[{"filter":"datum.k=='p'"}],
   "mark":{"type":"text","align":"left","baseline":"top","fontSize":5,"color":"#888","text":"1ft"},
   "encoding":{"x":{"datum":-2.93,"type":"quantitative","title":null,"axis":{"values":[-2.5,-1.5,-0.5,0.5,1.5,2.5],"grid":true,"labels":false,"ticks":false,"domain":false,"title":null}},"y":{"datum":2.92,"type":"quantitative","title":null,"axis":{"values":[-2.5,-1.5,-0.5,0.5,1.5,2.5],"grid":true,"labels":false,"ticks":false,"domain":false,"title":null}}}}
 ]
}
}
]
}
